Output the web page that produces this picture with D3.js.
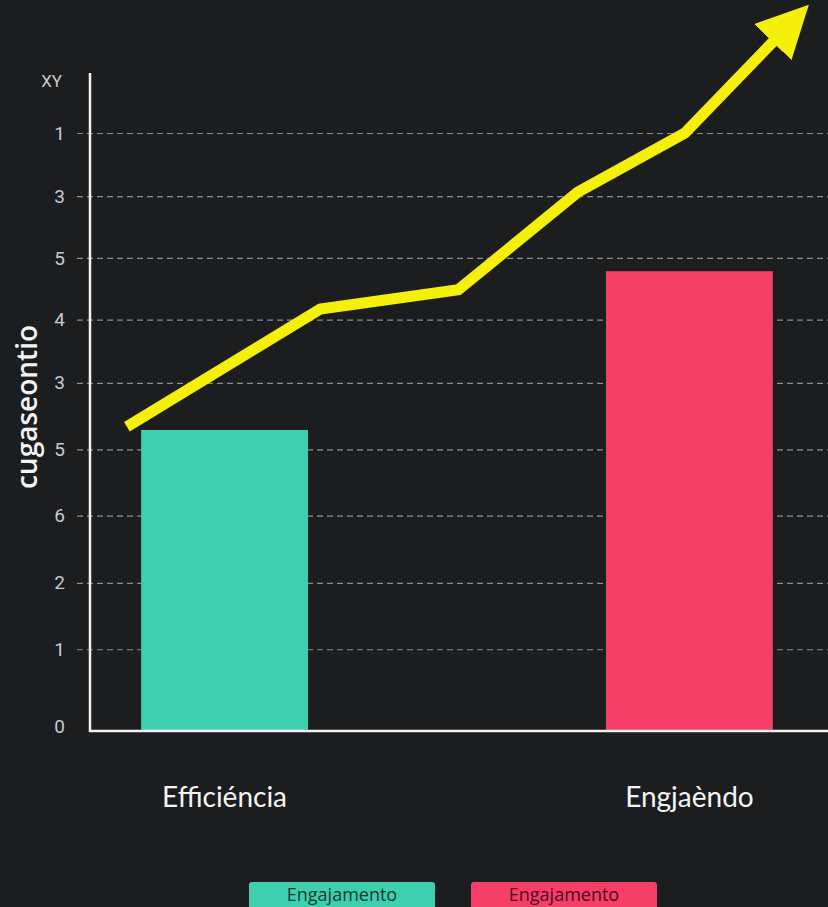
<!DOCTYPE html>
<html>
<head>
<meta charset="utf-8">
<script src="https://cdn.jsdelivr.net/npm/d3@7"></script>
<style>
  html, body { margin: 0; padding: 0; background: #1b1d1f; }
  svg { display: block; }
</style>
</head>
<body>
<div id="chart"></div>
<script>
// categories and bar values
const categories = ['Efficiéncia', 'Engjaèndo'];
const barValues = [4.53, 6.92];
const barColors = ['#3ecfae', '#f53f66'];

// y tick positions (value units) and the labels printed at them
const tickValues = [0, 1.23, 2.23, 3.24, 4.24, 5.24, 6.19, 7.12, 8.05, 9];
const tickLabels = ['0', '1', '2', '6', '5', '3', '4', '5', '3', '1'];

// trend arrow points (x in 0..10 across plot, y in value units)
const trendX = [0.5, 3.12, 4.99, 6.61, 8.06, 9.27];
const trendY = [4.58, 6.35, 6.64, 8.11, 9.0, 10.39];

const legendLabels = ['Engajamento', 'Engajamento'];

const width = 828;
const height = 907;
const margin = { left: 90, right: 0, top: 73, bottom: 176 };

const svg = d3.select('#chart').append('svg')
  .attr('width', width)
  .attr('height', height);

svg.append('rect')
  .attr('width', width)
  .attr('height', height)
  .attr('fill', '#1b1d1f');

const y = d3.scaleLinear()
  .domain([0, 9])
  .range([731, 133]);

const x = d3.scaleBand()
  .domain(categories)
  .range([margin.left, 824])
  .paddingInner(0.641)
  .paddingOuter(0.11);

const xl = d3.scaleLinear()
  .domain([0, 10])
  .range([margin.left, width]);

// grid + tick labels
const yAxis = svg.append('g')
  .attr('transform', 'translate(' + margin.left + ',0)')
  .call(d3.axisLeft(y)
    .tickValues(tickValues)
    .tickSize(13)
    .tickPadding(12)
    .tickFormat((d, i) => tickLabels[i]));
yAxis.select('.domain').remove();
yAxis.selectAll('.tick line')
  .attr('x1', -13)
  .attr('x2', width - margin.left)
  .attr('stroke', '#8a8c8e')
  .attr('stroke-width', 1.2)
  .attr('stroke-dasharray', '6,4')
  .attr('opacity', d => d === 0 ? 0 : 1);
yAxis.selectAll('.tick text')
  .attr('fill', '#c9cacb')
  .style('font-family', 'Roboto, sans-serif')
  .style('font-size', '19px');
yAxis.selectAll('.tick').filter(d => d === 0).select('text').attr('dy', '0.1em');

// bars
svg.append('g').selectAll('rect')
  .data(categories)
  .join('rect')
  .attr('x', d => x(d))
  .attr('y', (d, i) => y(barValues[i]))
  .attr('width', x.bandwidth())
  .attr('height', (d, i) => y(0) - y(barValues[i]))
  .attr('fill', (d, i) => barColors[i]);

// axis lines
svg.append('line')
  .attr('x1', margin.left).attr('x2', margin.left)
  .attr('y1', margin.top).attr('y2', y(0) + 1)
  .attr('stroke', '#f2f2f2').attr('stroke-width', 2.5);
svg.append('line')
  .attr('x1', margin.left - 1).attr('x2', width)
  .attr('y1', y(0)).attr('y2', y(0))
  .attr('stroke', '#f2f2f2').attr('stroke-width', 2.5);

svg.append('text')
  .attr('x', 62)
  .attr('y', 87)
  .attr('text-anchor', 'end')
  .attr('fill', '#c9cacb')
  .style('font-family', 'Roboto, sans-serif')
  .style('font-size', '17px')
  .text('XY');

// category labels
svg.append('g').selectAll('text')
  .data(categories)
  .join('text')
  .attr('x', d => x(d) + x.bandwidth() / 2)
  .attr('y', 807)
  .attr('text-anchor', 'middle')
  .attr('fill', '#f4f4f4')
  .style('font-family', 'Lato, "Open Sans", sans-serif')
  .style('font-size', '28px')
  .text(d => d);

// y title
svg.append('text')
  .attr('transform', 'translate(37,407) rotate(-90)')
  .attr('text-anchor', 'middle')
  .attr('fill', '#f4f4f4')
  .style('font-family', '"Open Sans", sans-serif')
  .style('font-weight', '600')
  .style('font-size', '28px')
  .text('cugaseontio');

// trend arrow
svg.append('defs').append('marker')
  .attr('id', 'head')
  .attr('markerUnits', 'userSpaceOnUse')
  .attr('markerWidth', 52)
  .attr('markerHeight', 52)
  .attr('viewBox', '0 -26 52 52')
  .attr('refX', 2)
  .attr('refY', 0)
  .attr('orient', 'auto')
  .append('path')
  .attr('d', 'M0,-26L52,0L0,26Z')
  .attr('fill', '#f5f00a');

const line = d3.line()
  .x(d => xl(d[0]))
  .y(d => y(d[1]));

svg.append('path')
  .datum(trendX.map((v, i) => [v, trendY[i]]))
  .attr('d', line)
  .attr('fill', 'none')
  .attr('stroke', '#f5f00a')
  .attr('stroke-width', 11)
  .attr('stroke-linejoin', 'miter')
  .attr('marker-end', 'url(#head)');

// legend
const legend = svg.append('g').selectAll('g')
  .data(legendLabels)
  .join('g')
  .attr('transform', (d, i) => 'translate(' + (249 + i * 222) + ',882)');
legend.append('rect')
  .attr('width', 186)
  .attr('height', 30)
  .attr('rx', 3)
  .attr('fill', (d, i) => barColors[i]);
legend.append('text')
  .attr('x', 93)
  .attr('y', 18.5)
  .attr('text-anchor', 'middle')
  .attr('fill', (d, i) => i === 0 ? '#173a33' : '#4a0d1c')
  .style('font-family', '"Open Sans", sans-serif')
  .style('font-size', '18px')
  .text(d => d);
</script>
</body>
</html>
